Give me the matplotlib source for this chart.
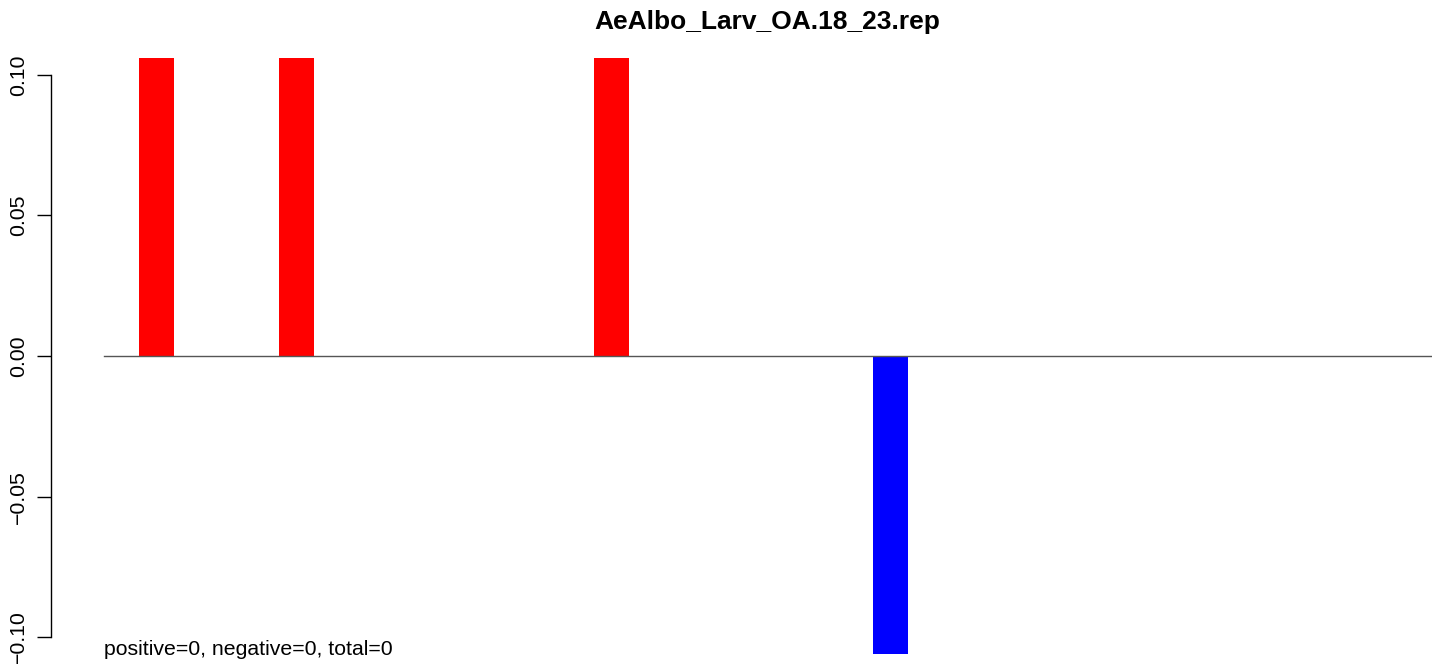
import matplotlib.pyplot as plt

plt.rcParams["font.family"] = ["Liberation Sans", "DejaVu Sans"]

title = "AeAlbo_Larv_OA.18_23.rep"
note = "positive=0, negative=0, total=0"
# one value per bar, most are zero
values = [0.0] * 37
values[0] = 0.106
values[4] = 0.106
values[13] = 0.106
values[21] = -0.106
yticks = [-0.10, -0.05, 0.00, 0.05, 0.10]
ytick_labels = ["\u22120.10", "\u22120.05", "0.00", "0.05", "0.10"]

colors = ["red" if v > 0 else "blue" for v in values]

fig = plt.figure(figsize=(14.39, 6.64), dpi=100)
# plot region in pixels: x 50..1432, y 58..654
ax = fig.add_axes([50.5 / 1439, 10 / 664, (1432.3 - 50.5) / 1439, 596 / 664])
ax.bar(range(len(values)), values, width=1, align="edge", color=colors, linewidth=0)
ax.plot([-1, len(values)], [0, 0], color="#555555", linewidth=1)

ax.set_xlim((50.5 - 139.3) / 34.95, len(values))
ax.set_ylim(-0.106, 0.106)

for s in ["top", "right", "bottom"]:
    ax.spines[s].set_visible(False)
ax.spines["left"].set_bounds(-0.10, 0.10)
ax.spines["left"].set_linewidth(1)
ax.set_xticks([])
ax.set_yticks(yticks)
ax.set_yticklabels(ytick_labels, rotation=90, va="center")
ax.tick_params(axis="y", length=10, width=1, pad=6, labelsize=15.3)

fig.text(767 / 1439, 1 - 22 / 664, title, ha="center", va="center",
         fontsize=19, fontweight="bold")
fig.text(104 / 1439, 9 / 664, note, ha="left", va="baseline", fontsize=15.3)

fig.savefig("out.png", dpi=100)
